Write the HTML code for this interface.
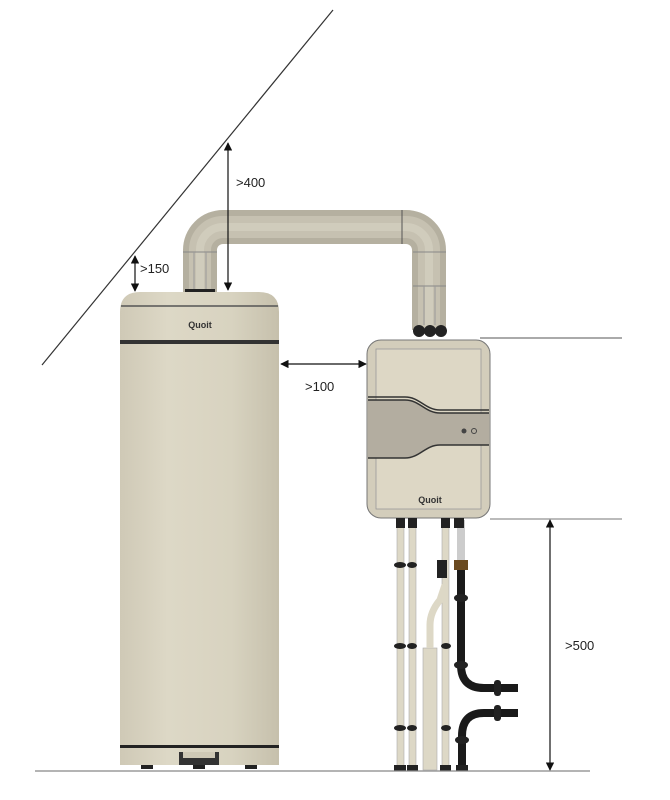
<!DOCTYPE html>
<html><head><meta charset="utf-8"><style>
html,body{margin:0;padding:0;background:#fff;width:670px;height:800px;overflow:hidden}
svg{display:block}
text{font-family:"Liberation Sans",sans-serif}
</style></head><body>
<svg width="670" height="800" viewBox="0 0 670 800" xmlns="http://www.w3.org/2000/svg">
<defs>
<marker id="ah" viewBox="0 0 10 10" refX="9" refY="5" markerWidth="7" markerHeight="7" orient="auto-start-reverse"><path d="M0,0 L10,5 L0,10z" fill="#111"/></marker>
<linearGradient id="cyl" x1="0" x2="1" y1="0" y2="0">
<stop offset="0" stop-color="#cfc9b6"/><stop offset="0.3" stop-color="#ddd8c6"/><stop offset="0.7" stop-color="#d8d3c0"/><stop offset="1" stop-color="#c6c0ac"/></linearGradient>
</defs>
<line x1="333" y1="10" x2="42" y2="365" stroke="#333" stroke-width="1.2"/>
<path d="M200,292 V250 A23,23 0 0 1 223,227 H406 A23,23 0 0 1 429,250 V330" fill="none" stroke="#b5b0a0" stroke-width="34"/>
<path d="M200,292 V250 A23,23 0 0 1 223,227 H406 A23,23 0 0 1 429,250 V330" fill="none" stroke="#c6c1b1" stroke-width="22"/>
<path d="M200,292 V250 A23,23 0 0 1 223,227 H406 A23,23 0 0 1 429,250 V330" fill="none" stroke="#d0ccbc" stroke-width="8"/>
<line x1="402" y1="210" x2="402" y2="244" stroke="#555" stroke-width="1"/>
<line x1="183" y1="252" x2="217" y2="252" stroke="#888" stroke-width="1"/>
<line x1="413" y1="252" x2="446" y2="252" stroke="#888" stroke-width="1"/>
<line x1="413" y1="286" x2="446" y2="286" stroke="#888" stroke-width="1"/>
<g stroke="#999" stroke-width="1"><line x1="194" y1="252" x2="194" y2="292"/><line x1="206" y1="252" x2="206" y2="292"/><line x1="424" y1="286" x2="424" y2="325"/><line x1="435" y1="286" x2="435" y2="325"/></g>
<g fill="#222"><rect x="185" y="289" width="30" height="4"/>
<circle cx="419" cy="331" r="6"/><circle cx="430" cy="331" r="6"/><circle cx="441" cy="331" r="6"/></g>
<path d="M120,312 Q120,292 140,292 H259 Q279,292 279,312 V765 H120Z" fill="url(#cyl)"/>
<line x1="121" y1="306" x2="278" y2="306" stroke="#555" stroke-width="1.5"/>
<rect x="120" y="340" width="159" height="4" fill="#333"/>
<rect x="120" y="745" width="159" height="3" fill="#222"/>
<rect x="179" y="752" width="40" height="13" fill="#333"/><rect x="183" y="752" width="32" height="6" fill="#cfc9b6"/>
<g fill="#222"><rect x="141" y="765" width="12" height="4"/><rect x="193" y="765" width="12" height="4"/><rect x="245" y="765" width="12" height="4"/></g>
<text x="200" y="328" font-size="9" font-weight="bold" fill="#333" text-anchor="middle">Quoit</text>
<rect x="367" y="340" width="123" height="178" rx="14" fill="#d3cdbb" stroke="#777" stroke-width="1"/>
<rect x="376" y="349" width="105" height="160" fill="#ddd7c5" stroke="#999" stroke-width="0.8"/>
<path d="M368,400 H405 C420,400 425,413 440,413 H489 V445 H440 C425,445 420,458 405,458 H368Z" fill="#b3ada0"/>
<path d="M368,397 H405 C420,397 425,410 440,410 H489" fill="none" stroke="#333" stroke-width="1.5"/>
<path d="M368,400 H405 C420,400 425,413 440,413 H489" fill="none" stroke="#333" stroke-width="1.5"/>
<path d="M368,458 H405 C420,458 425,445 440,445 H489" fill="none" stroke="#333" stroke-width="1.5"/>
<circle cx="464" cy="431" r="2.5" fill="#444"/><circle cx="474" cy="431" r="2.5" fill="none" stroke="#444"/>
<text x="430" y="503" font-size="9" font-weight="bold" fill="#333" text-anchor="middle">Quoit</text>
<g fill="#ddd8c6" stroke="#aaa" stroke-width="0.6">
<rect x="397" y="525" width="7" height="245"/><rect x="409" y="525" width="7" height="245"/><rect x="442" y="525" width="7" height="245"/>
<rect x="423" y="648" width="14" height="122"/>
</g>
<path d="M430,648 V625 Q430,612 440,600 L445,585" fill="none" stroke="#ddd8c6" stroke-width="7"/>
<path d="M461,530 V665 Q461,688 484,688 H518" fill="none" stroke="#1a1a1a" stroke-width="8"/>
<path d="M518,713 H484 Q462,713 462,736 V770" fill="none" stroke="#1a1a1a" stroke-width="8"/>
<rect x="457" y="520" width="8" height="40" fill="#ccc"/>
<g fill="#222">
<rect x="396" y="518" width="9" height="10"/><rect x="408" y="518" width="9" height="10"/><rect x="441" y="518" width="9" height="10"/><rect x="454" y="518" width="10" height="10"/>
<rect x="437" y="560" width="10" height="18"/><rect x="454" y="560" width="14" height="10" fill="#6a4a20"/>
<ellipse cx="400" cy="565" rx="6" ry="3"/><ellipse cx="412" cy="565" rx="5" ry="3"/>
<ellipse cx="400" cy="646" rx="6" ry="3"/><ellipse cx="412" cy="646" rx="5" ry="3"/><ellipse cx="446" cy="646" rx="5" ry="3"/>
<ellipse cx="400" cy="728" rx="6" ry="3"/><ellipse cx="412" cy="728" rx="5" ry="3"/><ellipse cx="446" cy="728" rx="5" ry="3"/>
<ellipse cx="461" cy="598" rx="7" ry="4"/><ellipse cx="461" cy="665" rx="7" ry="4"/><ellipse cx="462" cy="740" rx="7" ry="4"/>
<rect x="494" y="680" width="7" height="16" rx="3"/><rect x="494" y="705" width="7" height="16" rx="3"/>
<rect x="394" y="765" width="12" height="6"/><rect x="407" y="765" width="11" height="6"/><rect x="440" y="765" width="11" height="6"/><rect x="456" y="765" width="12" height="6"/>
</g>
<line x1="480" y1="338" x2="622" y2="338" stroke="#555" stroke-width="1"/>
<line x1="490" y1="519" x2="622" y2="519" stroke="#777" stroke-width="1"/>
<line x1="35" y1="771" x2="590" y2="771" stroke="#888" stroke-width="1.2"/>
<g stroke="#111" stroke-width="1.2" fill="none">
<line x1="228" y1="143" x2="228" y2="290" marker-start="url(#ah)" marker-end="url(#ah)"/>
<line x1="135" y1="256" x2="135" y2="291" marker-start="url(#ah)" marker-end="url(#ah)"/>
<line x1="281" y1="364" x2="366" y2="364" marker-start="url(#ah)" marker-end="url(#ah)"/>
<line x1="550" y1="520" x2="550" y2="770" marker-start="url(#ah)" marker-end="url(#ah)"/>
</g>
<g font-size="13" fill="#222">
<text x="236" y="187">&gt;400</text>
<text x="140" y="273">&gt;150</text>
<text x="305" y="391">&gt;100</text>
<text x="565" y="650">&gt;500</text>
</g>
</svg>
</body></html>
